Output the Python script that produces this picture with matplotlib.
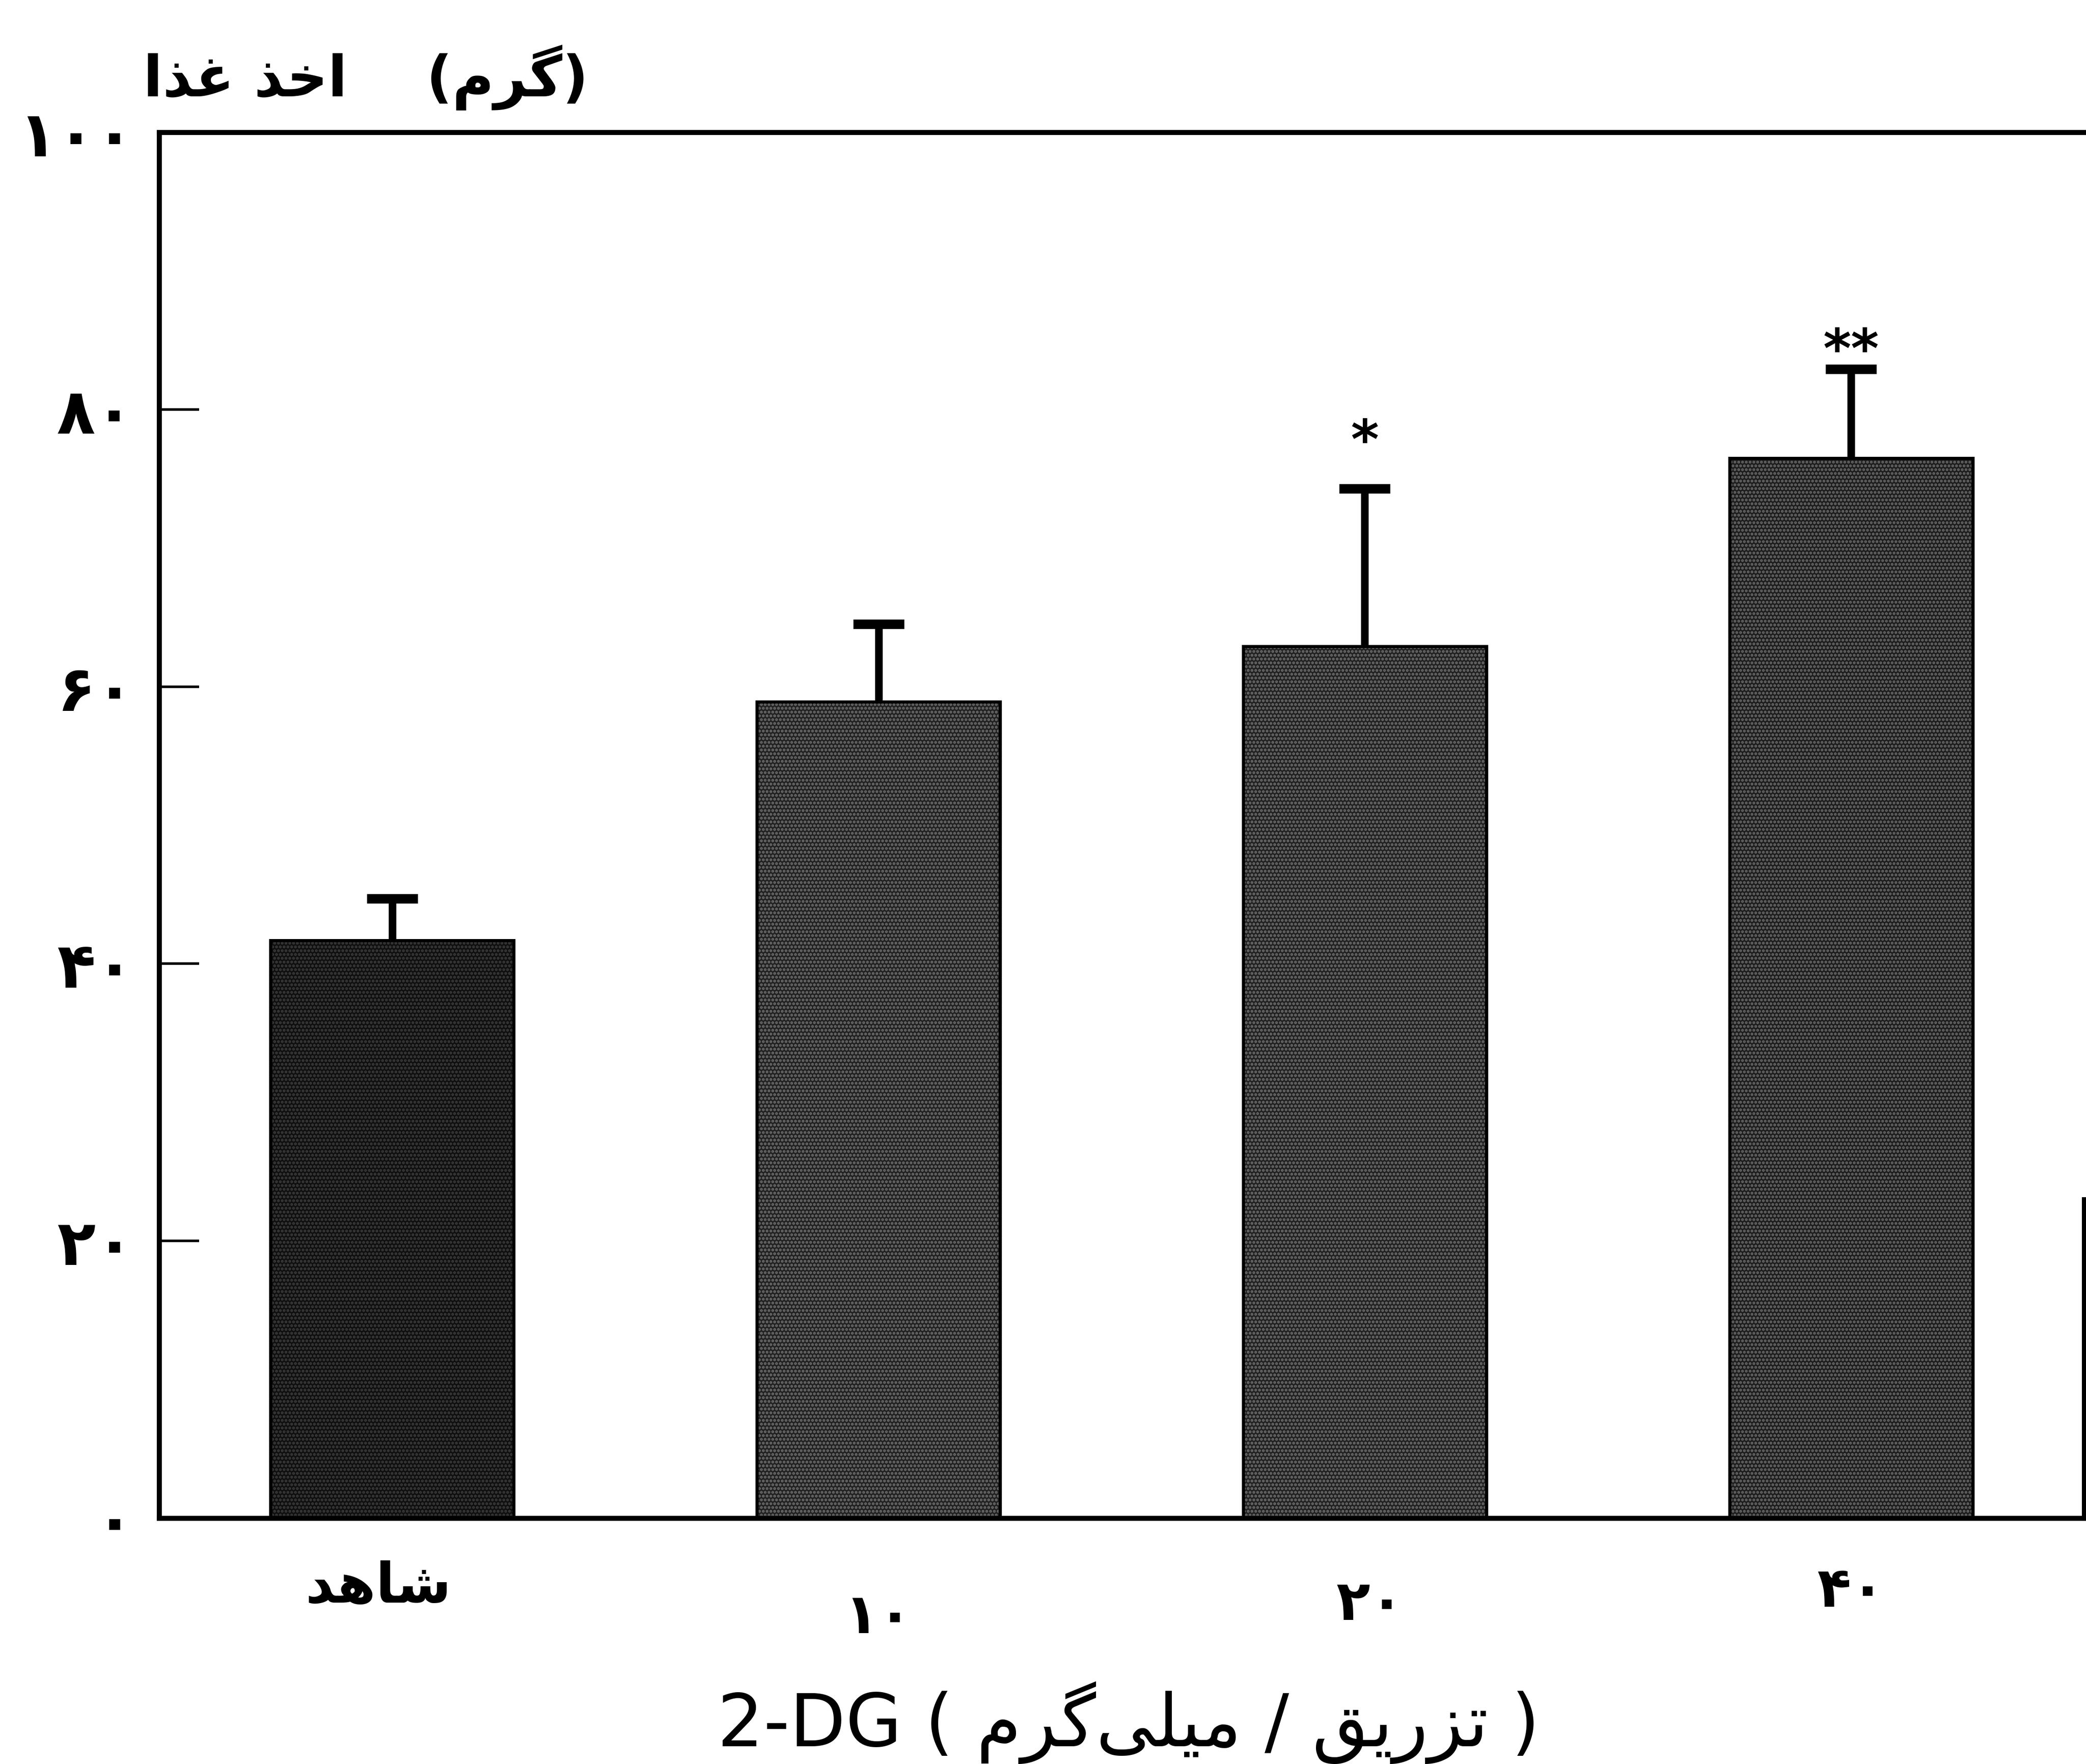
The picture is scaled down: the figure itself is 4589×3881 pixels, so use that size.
import matplotlib
matplotlib.use('Agg')
import matplotlib.pyplot as plt
import numpy as np

# ---------------- data ----------------
# group labels (visual-order Arabic presentation forms; logical: شاهد, ۱۰, ۲۰, ۴۰)
group_labels = ['\uFEAA\uFEEB\uFE8E\uFEB7', '\u06F1\u06F0', '\u06F2\u06F0', '\u06F4\u06F0']
food_intake = [41.7, 58.9, 62.9, 76.5]       # mean food intake (g)
sem_upper = [3.0, 5.6, 11.4, 6.4]            # upper error
significance = ['', '', '*', '**']
yticks = [0, 20, 40, 60, 80, 100]
ytick_labels = ['\u06F0', '\u06F2\u06F0', '\u06F4\u06F0', '\u06F6\u06F0', '\u06F8\u06F0', '\u06F1\u06F0\u06F0']

# titles (visual order)
ylabel_text = '\uFE8D\uFEAC\uFECF \uFEAC\uFEA7\uFE8D    (\uFEE1\uFEAE\uFB94)'   # اخذ غذا (گرم)
xlabel_text = ('2-DG ( ' + '\uFEE1\uFEAE\uFB94\uFEF0\uFEE0\uFEF4\uFEE3' + ' / '
               + '\uFED6\uFEF3\uFEAD\uFEB0\uFE97' + ' )')                      # 2-DG ( تزریق / میلی‌گرم )

# ---------------- style ----------------
plt.rcParams['hatch.linewidth'] = 3.0
face_colors = ['#101010', '#222222', '#222222', '#1e1e1e']
hatch_colors = ['#3c3c3c', '#6e6e6e', '#6e6e6e', '#6a6a6a']
label_drop_pt = [110, 158, 137, 116]
label_dx_pt = [-22, 0, 8, 0]
star_offset_pt = [0, 0, 48, 3]

fig = plt.figure(figsize=(45.89, 38.81), dpi=100)
ax = fig.add_axes([0.0763, 0.1394, 0.9228, 0.7856])

x = np.arange(len(food_intake))
ax.bar(x, food_intake, width=0.5, color=face_colors, edgecolor=hatch_colors,
       hatch='..', linewidth=0, zorder=2)
ax.bar(x, food_intake, width=0.5, fill=False, edgecolor='black', linewidth=5, zorder=3)
eb = ax.errorbar(x, food_intake, yerr=[np.zeros(len(sem_upper)), sem_upper], fmt='none',
                 ecolor='black', elinewidth=12, capsize=40, capthick=15, zorder=4)
# hide the lower caps (sitting on the bar tops)
for cap in eb[1]:
    if np.allclose(cap.get_ydata(), food_intake):
        cap.set_visible(False)

ax.set_xlim(-0.479, 3.479)
ax.set_ylim(0, 100)

for s in ['left', 'top', 'bottom', 'right']:
    ax.spines[s].set_linewidth(8)
ax.spines['right'].set_bounds(0, 23)

ax.set_yticks(yticks)
ax.set_yticklabels(ytick_labels, fontsize=100, fontweight='bold', family=['DejaVu Sans'])
ax.tick_params(axis='y', direction='in', length=63, width=4, pad=40)
ax.set_xticks([])

for i, lab in enumerate(group_labels):
    ax.annotate(lab, xy=(x[i], 0), xycoords='data',
                xytext=(label_dx_pt[i], -label_drop_pt[i]), textcoords='offset points',
                ha='center', va='center', fontsize=88, fontweight='bold',
                family=['DejaVu Sans'], annotation_clip=False)

for i, sig in enumerate(significance):
    if sig:
        ax.annotate(sig, xy=(x[i], food_intake[i] + sem_upper[i]),
                    xytext=(0, star_offset_pt[i]), textcoords='offset points',
                    ha='center', va='baseline', fontsize=85, fontweight='bold',
                    family=['DejaVu Sans'])

fig.text(0.1754, 0.956, ylabel_text, ha='center', va='center', fontsize=90,
         fontweight='bold', family=['DejaVu Sans'])
fig.text(0.541, 0.0234, xlabel_text, ha='center', va='center', fontsize=115,
         family=['DejaVu Sans'])

fig.savefig('out.png', dpi=100, facecolor='white')
